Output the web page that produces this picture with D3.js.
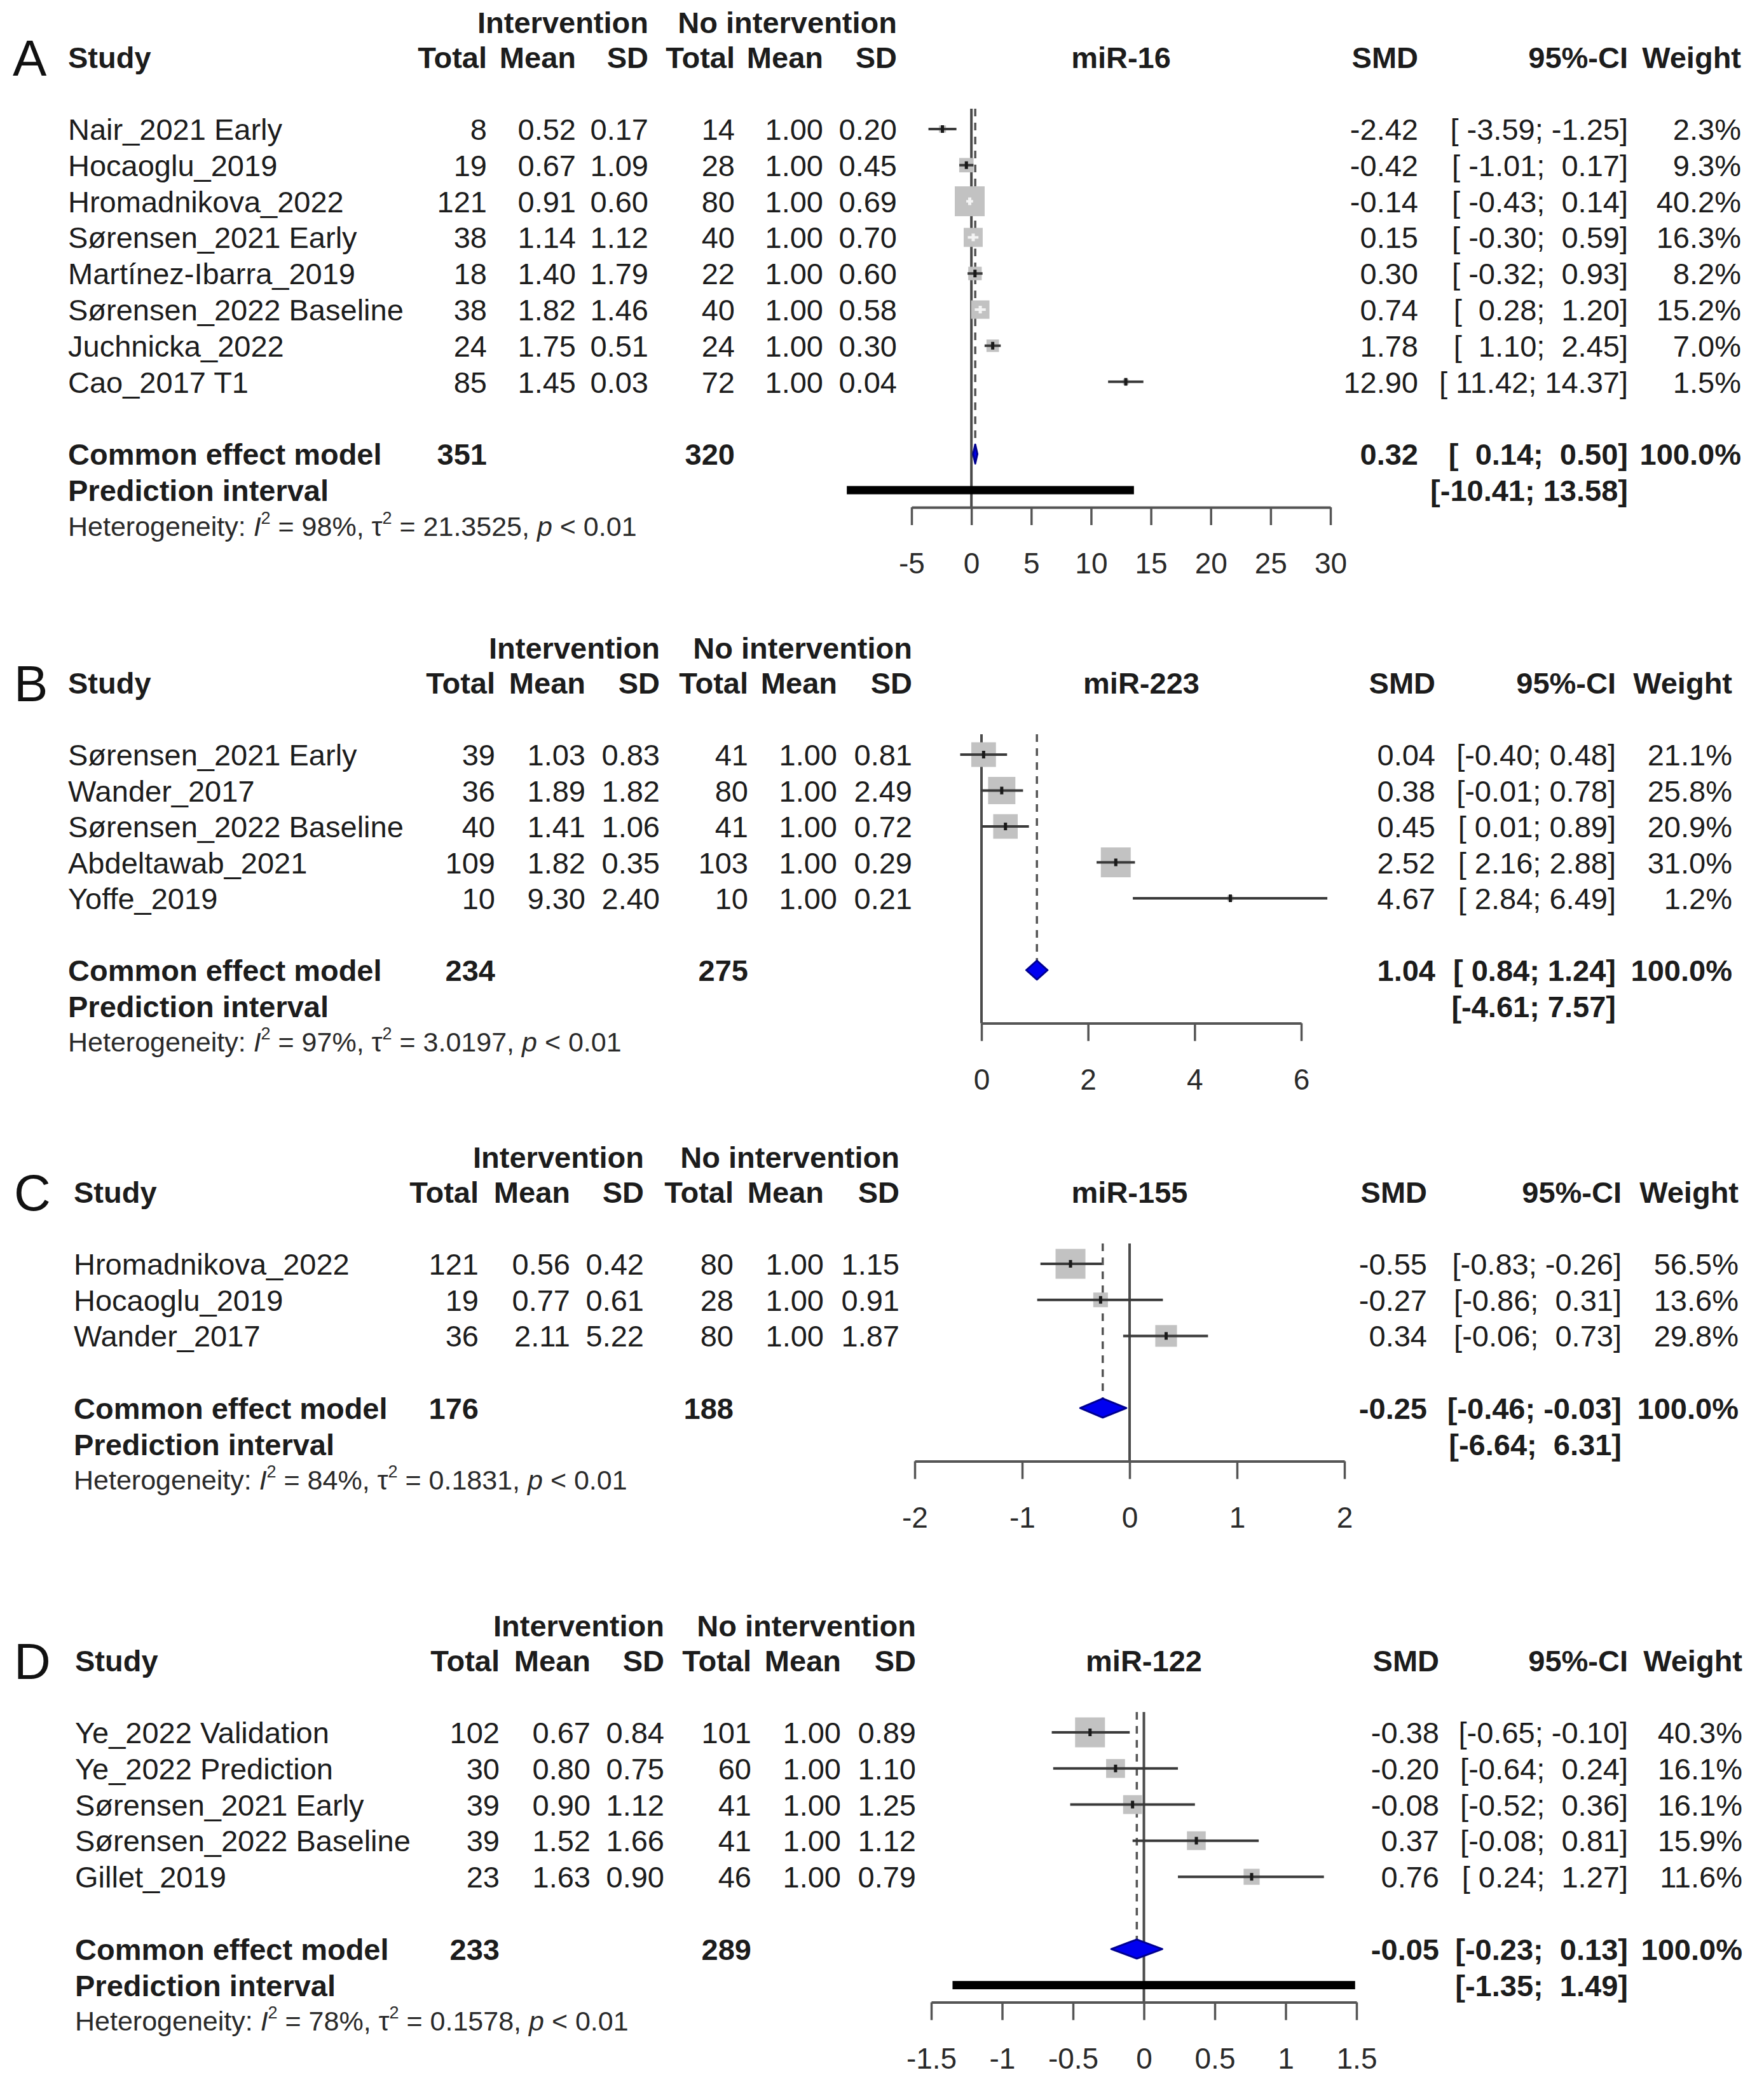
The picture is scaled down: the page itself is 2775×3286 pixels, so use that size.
<!DOCTYPE html>
<html><head><meta charset="utf-8">
<script src="https://cdn.jsdelivr.net/npm/d3@7"></script>
<style>
body{margin:0;background:#fff}
text{font-family:"Liberation Sans",Arial,Helvetica,sans-serif;white-space:pre}
</style>
</head><body>
<svg id="chart" width="2775" height="3286"></svg>
<script>
// ================= DATA =================
const panelLetters = ["A", "B", "C", "D"];
const panelTitles = ["miR-16", "miR-223", "miR-155", "miR-122"];

// Panel A: miR-16
const studiesA = ["Nair_2021 Early", "Hocaoglu_2019", "Hromadnikova_2022", "Sørensen_2021 Early", "Martínez-Ibarra_2019", "Sørensen_2022 Baseline", "Juchnicka_2022", "Cao_2017 T1"];
const n1A = [8, 19, 121, 38, 18, 38, 24, 85];
const mean1A = [0.52, 0.67, 0.91, 1.14, 1.40, 1.82, 1.75, 1.45];
const sd1A = [0.17, 1.09, 0.60, 1.12, 1.79, 1.46, 0.51, 0.03];
const n2A = [14, 28, 80, 40, 22, 40, 24, 72];
const mean2A = [1.00, 1.00, 1.00, 1.00, 1.00, 1.00, 1.00, 1.00];
const sd2A = [0.20, 0.45, 0.69, 0.70, 0.60, 0.58, 0.30, 0.04];
const smdA = [-2.42, -0.42, -0.14, 0.15, 0.30, 0.74, 1.78, 12.90];
const lowA = [-3.59, -1.01, -0.43, -0.30, -0.32, 0.28, 1.10, 11.42];
const upA = [-1.25, 0.17, 0.14, 0.59, 0.93, 1.20, 2.45, 14.37];
const weightA = [2.3, 9.3, 40.2, 16.3, 8.2, 15.2, 7.0, 1.5];
const ticksA = [-5, 0, 5, 10, 15, 20, 25, 30];

// Panel B: miR-223
const studiesB = ["Sørensen_2021 Early", "Wander_2017", "Sørensen_2022 Baseline", "Abdeltawab_2021", "Yoffe_2019"];
const n1B = [39, 36, 40, 109, 10];
const mean1B = [1.03, 1.89, 1.41, 1.82, 9.30];
const sd1B = [0.83, 1.82, 1.06, 0.35, 2.40];
const n2B = [41, 80, 41, 103, 10];
const mean2B = [1.00, 1.00, 1.00, 1.00, 1.00];
const sd2B = [0.81, 2.49, 0.72, 0.29, 0.21];
const smdB = [0.04, 0.38, 0.45, 2.52, 4.67];
const lowB = [-0.40, -0.01, 0.01, 2.16, 2.84];
const upB = [0.48, 0.78, 0.89, 2.88, 6.49];
const weightB = [21.1, 25.8, 20.9, 31.0, 1.2];
const ticksB = [0, 2, 4, 6];

// Panel C: miR-155
const studiesC = ["Hromadnikova_2022", "Hocaoglu_2019", "Wander_2017"];
const n1C = [121, 19, 36];
const mean1C = [0.56, 0.77, 2.11];
const sd1C = [0.42, 0.61, 5.22];
const n2C = [80, 28, 80];
const mean2C = [1.00, 1.00, 1.00];
const sd2C = [1.15, 0.91, 1.87];
const smdC = [-0.55, -0.27, 0.34];
const lowC = [-0.83, -0.86, -0.06];
const upC = [-0.26, 0.31, 0.73];
const weightC = [56.5, 13.6, 29.8];
const ticksC = [-2, -1, 0, 1, 2];

// Panel D: miR-122
const studiesD = ["Ye_2022 Validation", "Ye_2022 Prediction", "Sørensen_2021 Early", "Sørensen_2022 Baseline", "Gillet_2019"];
const n1D = [102, 30, 39, 39, 23];
const mean1D = [0.67, 0.80, 0.90, 1.52, 1.63];
const sd1D = [0.84, 0.75, 1.12, 1.66, 0.90];
const n2D = [101, 60, 41, 41, 46];
const mean2D = [1.00, 1.00, 1.00, 1.00, 1.00];
const sd2D = [0.89, 1.10, 1.25, 1.12, 0.79];
const smdD = [-0.38, -0.20, -0.08, 0.37, 0.76];
const lowD = [-0.65, -0.64, -0.52, -0.08, 0.24];
const upD = [-0.10, 0.24, 0.36, 0.81, 1.27];
const weightD = [40.3, 16.1, 16.1, 15.9, 11.6];
const ticksD = [-1.5, -1, -0.5, 0, 0.5, 1, 1.5];

// Pooled results (common effect model) and prediction intervals
const pooledN1 = [351, 234, 176, 233];
const pooledN2 = [320, 275, 188, 289];
const pooledSMD = [0.32, 1.04, -0.25, -0.05];
const pooledLow = [0.14, 0.84, -0.46, -0.23];
const pooledUp = [0.50, 1.24, -0.03, 0.13];
const piLow = [-10.41, -4.61, -6.64, -1.35];
const piUp = [13.58, 7.57, 6.31, 1.49];
const piShown = [true, false, false, true];
const hetI2 = ["98%", "97%", "84%", "78%"];
const hetTau2 = ["21.3525", "3.0197", "0.1831", "0.1578"];
const hetP = ["< 0.01", "< 0.01", "< 0.01", "< 0.01"];

// ================= ASSEMBLY =================
const studies = [studiesA, studiesB, studiesC, studiesD];
const n1 = [n1A, n1B, n1C, n1D], mean1 = [mean1A, mean1B, mean1C, mean1D], sd1 = [sd1A, sd1B, sd1C, sd1D];
const n2 = [n2A, n2B, n2C, n2D], mean2 = [mean2A, mean2B, mean2C, mean2D], sd2 = [sd2A, sd2B, sd2C, sd2D];
const smd = [smdA, smdB, smdC, smdD], low = [lowA, lowB, lowC, lowD], up = [upA, upB, upC, upD];
const weight = [weightA, weightB, weightC, weightD];
const ticks = [ticksA, ticksB, ticksC, ticksD];

// ================= LAYOUT (positions only) =================
const layouts = [
  {row0: 203,  step: 56.8, studyX: 107, letterX: 20, cols: [766, 906, 1020, 1156, 1295, 1411], xr: [1434, 2093], smdX: 2231, ciX: 2561, wX: 2739},
  {row0: 1187, step: 56.5, studyX: 107, letterX: 22, cols: [779, 921, 1038, 1177, 1317, 1435], xr: [1544, 2047], smdX: 2258, ciX: 2542, wX: 2725},
  {row0: 1988, step: 56.7, studyX: 116, letterX: 22, cols: [753, 897, 1013, 1154, 1296, 1415], xr: [1439, 2115], smdX: 2245, ciX: 2551, wX: 2735},
  {row0: 2725, step: 56.8, studyX: 118, letterX: 22, cols: [786, 929, 1045, 1182, 1323, 1441], xr: [1465, 2134], smdX: 2264, ciX: 2561, wX: 2741}
];

const FS = 47;          // main font size
const BASE = 17;        // baseline offset from row centre
const TXT = "#1c1c1c";
const svg = d3.select("#chart");
svg.append("rect").attr("width", 2775).attr("height", 3286).attr("fill", "#fff");

function txt(g, x, yc, s, o = {}) {
  return g.append("text")
    .attr("x", x).attr("y", yc + (o.base != null ? o.base : BASE))
    .attr("text-anchor", o.anchor || "start")
    .attr("font-size", o.size || FS)
    .attr("font-weight", o.bold ? "bold" : "normal")
    .attr("fill", o.fill || TXT)
    .text(s);
}

function fmtCI(lo, hi, wl, wu) {
  const a = lo.toFixed(2), b = hi.toFixed(2);
  return "[" + a.padStart(wl, " ") + "; " + b.padStart(wu, " ") + "]";
}

function drawPanel(p) {
  const L = layouts[p];
  const g = svg.append("g");
  const nS = studies[p].length;
  const yRow = d3.scaleLinear().domain([0, 1]).range([L.row0, L.row0 + L.step]);
  const yCommon = yRow(nS + 1), yPI = yRow(nS + 2), yHet = yRow(nS + 3);
  const yHead1 = L.row0 - 168, yHead2 = L.row0 - 113;
  const axisY = yPI + 27;
  const x = d3.scaleLinear().domain(d3.extent(ticks[p])).range(L.xr);

  // panel letter
  g.append("text").attr("x", L.letterX).attr("y", yHead2 + 29)
    .attr("font-size", 80).attr("fill", "#111").text(panelLetters[p]);

  // headers
  txt(g, L.cols[2], yHead1, "Intervention", {anchor: "end", bold: true});
  txt(g, L.cols[5], yHead1, "No intervention", {anchor: "end", bold: true});
  txt(g, L.studyX, yHead2, "Study", {bold: true});
  ["Total", "Mean", "SD", "Total", "Mean", "SD"].forEach((h, i) =>
    txt(g, L.cols[i], yHead2, h, {anchor: "end", bold: true}));
  txt(g, (L.xr[0] + L.xr[1]) / 2, yHead2, panelTitles[p], {anchor: "middle", bold: true});
  txt(g, L.smdX, yHead2, "SMD", {anchor: "end", bold: true});
  txt(g, L.ciX, yHead2, "95%-CI", {anchor: "end", bold: true});
  txt(g, L.wX, yHead2, "Weight", {anchor: "end", bold: true});

  // CI widths (R-style padding)
  const allLo = low[p].concat([pooledLow[p], piLow[p]]);
  const allHi = up[p].concat([pooledUp[p], piUp[p]]);
  const wl = d3.max(allLo, v => v.toFixed(2).length);
  const wu = d3.max(allHi, v => v.toFixed(2).length);

  // study rows text
  studies[p].forEach((s, i) => {
    const yc = yRow(i);
    txt(g, L.studyX, yc, s);
    const vals = [String(n1[p][i]), mean1[p][i].toFixed(2), sd1[p][i].toFixed(2),
                  String(n2[p][i]), mean2[p][i].toFixed(2), sd2[p][i].toFixed(2)];
    vals.forEach((v, k) => txt(g, L.cols[k], yc, v, {anchor: "end"}));
    txt(g, L.smdX, yc, smd[p][i].toFixed(2), {anchor: "end"});
    txt(g, L.ciX, yc, fmtCI(low[p][i], up[p][i], wl, wu), {anchor: "end"});
    txt(g, L.wX, yc, weight[p][i].toFixed(1) + "%", {anchor: "end"});
  });

  // pooled rows text
  txt(g, L.studyX, yCommon, "Common effect model", {bold: true});
  txt(g, L.cols[0], yCommon, String(pooledN1[p]), {anchor: "end", bold: true});
  txt(g, L.cols[3], yCommon, String(pooledN2[p]), {anchor: "end", bold: true});
  txt(g, L.smdX, yCommon, pooledSMD[p].toFixed(2), {anchor: "end", bold: true});
  txt(g, L.ciX, yCommon, fmtCI(pooledLow[p], pooledUp[p], wl, wu), {anchor: "end", bold: true});
  txt(g, L.wX, yCommon, "100.0%", {anchor: "end", bold: true});
  txt(g, L.studyX, yPI, "Prediction interval", {bold: true});
  txt(g, L.ciX, yPI, fmtCI(piLow[p], piUp[p], wl, wu), {anchor: "end", bold: true});

  // heterogeneity
  const ht = g.append("text").attr("x", L.studyX).attr("y", yHet + 15)
    .attr("font-size", 43).attr("fill", "#2a2a2a");
  ht.append("tspan").text("Heterogeneity: ");
  ht.append("tspan").attr("font-style", "italic").text("I");
  ht.append("tspan").attr("font-size", 27).attr("dy", -19).text("2");
  ht.append("tspan").attr("dy", 19).text(" = " + hetI2[p] + ", τ");
  ht.append("tspan").attr("font-size", 27).attr("dy", -19).text("2");
  ht.append("tspan").attr("dy", 19).text(" = " + hetTau2[p] + ", ");
  ht.append("tspan").attr("font-style", "italic").text("p");
  ht.append("tspan").text(" " + hetP[p]);

  // ---- forest graphics ----
  const fg = g.append("g");
  const topY = L.row0 - 32;
  // zero line
  fg.append("line").attr("x1", x(0)).attr("x2", x(0)).attr("y1", topY).attr("y2", axisY)
    .attr("stroke", "#4a4a4a").attr("stroke-width", 4);
  // dashed common effect line
  fg.append("line").attr("x1", x(pooledSMD[p])).attr("x2", x(pooledSMD[p]))
    .attr("y1", topY).attr("y2", yCommon - 15)
    .attr("stroke", "#555").attr("stroke-width", 3.5).attr("stroke-dasharray", "12,10");

  const wMax = d3.max(weight[p]);
  const side = d3.scaleSqrt().domain([0, wMax]).range([0, 47]);
  studies[p].forEach((s, i) => {
    const yc = yRow(i);
    const sz = side(weight[p][i]);
    const cx = x(smd[p][i]);
    fg.append("rect").attr("x", cx - sz / 2).attr("y", yc - sz / 2)
      .attr("width", sz).attr("height", sz).attr("fill", "#c2c2c2");
    const inside = (x(up[p][i]) - x(low[p][i])) < 0.9 * sz;
    const col = inside ? "#f4f4f4" : "#3a3a3a";
    fg.append("line").attr("x1", x(low[p][i])).attr("x2", x(up[p][i]))
      .attr("y1", yc).attr("y2", yc).attr("stroke", col).attr("stroke-width", 4);
    fg.append("rect").attr("x", cx - 2.5).attr("y", yc - 6).attr("width", 5).attr("height", 12)
      .attr("fill", inside ? "#f4f4f4" : "#1a1a1a");
  });

  // diamond
  const dh = 15;
  fg.append("path")
    .attr("d", `M${x(pooledLow[p])},${yCommon} L${x(pooledSMD[p])},${yCommon - dh} L${x(pooledUp[p])},${yCommon} L${x(pooledSMD[p])},${yCommon + dh} Z`)
    .attr("fill", "#0000f0").attr("stroke", "#000090").attr("stroke-width", 3).attr("stroke-linejoin", "round");

  // prediction interval bar
  if (piShown[p]) {
    fg.append("rect").attr("x", x(piLow[p])).attr("y", yPI - 6.5)
      .attr("width", x(piUp[p]) - x(piLow[p])).attr("height", 13).attr("fill", "#000");
  }

  // axis
  const axis = d3.axisBottom(x).tickValues(ticks[p]).tickSize(28).tickSizeOuter(0)
    .tickFormat(d => String(d));
  const ag = fg.append("g").attr("transform", `translate(0,${axisY})`).call(axis);
  ag.select(".domain").attr("stroke", "#555").attr("stroke-width", 4);
  ag.selectAll(".tick line").attr("stroke", "#555").attr("stroke-width", 3.5);
  ag.selectAll(".tick text").attr("y", 104).attr("dy", null)
    .attr("font-size", 46).attr("fill", "#2a2a2a")
    .attr("font-family", "Liberation Sans, Arial, sans-serif");
}

[0, 1, 2, 3].forEach(drawPanel);
</script>
</body></html>
